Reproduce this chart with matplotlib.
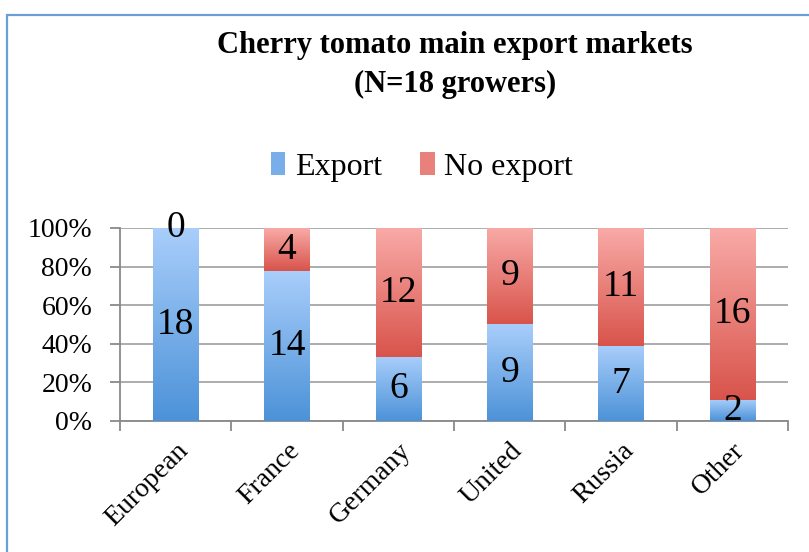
import matplotlib
matplotlib.use("Agg")
import matplotlib.pyplot as plt
import numpy as np
from matplotlib.colors import LinearSegmentedColormap
from matplotlib.patches import Rectangle, Patch
from matplotlib.ticker import FixedLocator, FuncFormatter

categories = ["European", "France", "Germany", "United", "Russia", "Other"]
export = [18, 14, 6, 9, 7, 2]
no_export = [0, 4, 12, 9, 11, 16]
series_names = ["Export", "No export"]
title = "Cherry tomato main export markets\n(N=18 growers)"

blue_top, blue_bot = "#A9CEFB", "#4C92D8"
red_top, red_bot = "#F9AAA7", "#D8544B"

plt.rcParams['font.family'] = ['Liberation Serif', 'DejaVu Serif']

W, H = 809, 552
fig = plt.figure(figsize=(W / 100, H / 100), dpi=100)
ax = fig.add_axes([120 / W, 1 - 421 / H, (788 - 120) / W, (421 - 228) / H])

x = np.arange(len(categories))
tot = np.array(export) + np.array(no_export)
exp_p = np.array(export) / tot * 100
no_p = np.array(no_export) / tot * 100
width = 0.41

grad = np.linspace(1, 0, 256).reshape(-1, 1)
cmap_b = LinearSegmentedColormap.from_list("b", [blue_bot, blue_top])
cmap_r = LinearSegmentedColormap.from_list("r", [red_bot, red_top])

bars_e = ax.bar(x, exp_p, width, color="none", zorder=3)
bars_n = ax.bar(x, no_p, width, bottom=exp_p, color="none", zorder=3)

for bars, cm in ((bars_e, cmap_b), (bars_n, cmap_r)):
    for b in bars:
        x0, y0 = b.get_x(), b.get_y()
        w, h = b.get_width(), b.get_height()
        if h <= 0:
            continue
        ax.imshow(grad, cmap=cm, aspect="auto", extent=[x0, x0 + w, y0, y0 + h],
                  zorder=3, interpolation="bicubic")

for i in range(len(categories)):
    ax.text(x[i], exp_p[i] / 2, str(export[i]), ha="center", va="center",
            fontsize=27, zorder=5)
    ax.text(x[i], exp_p[i] + no_p[i] / 2, str(no_export[i]), ha="center", va="center",
            fontsize=27, zorder=5)

ax.set_xlim(-0.5, len(categories) - 0.5)
ax.set_ylim(0, 100)
ax.set_yticks(np.arange(0, 101, 20))
ax.yaxis.set_major_formatter(FuncFormatter(lambda v, p: f"{int(v)}%"))
ax.yaxis.grid(True, color="#A6A6A6", linewidth=1.3, zorder=0)
ax.set_axisbelow(True)

ax.set_xticks(x)
ax.set_xticklabels(categories, rotation=45, ha="right", rotation_mode="anchor", fontsize=20)
ax.tick_params(axis="x", which="major", length=0, pad=12)
ax.xaxis.set_minor_locator(FixedLocator(np.arange(-0.5, len(categories), 1)))
ax.tick_params(axis="x", which="minor", length=7, color="#898989", width=1.3)
ax.tick_params(axis="y", length=7, color="#898989", width=1.3, labelsize=20, pad=13)

for s in ["top", "right"]:
    ax.spines[s].set_visible(False)
for s in ["left", "bottom"]:
    ax.spines[s].set_color("#898989")
    ax.spines[s].set_linewidth(1.3)

fig.text(455 / W, 1 - 65 / H, title, ha="center", va="center", fontsize=22,
         fontweight="bold", linespacing=1.45)

handles = [Patch(facecolor="#7AAEE9", edgecolor="none"),
           Patch(facecolor="#E8807B", edgecolor="none")]
fig.legend(handles, series_names, loc="center", bbox_to_anchor=(422 / W, 1 - 167 / H),
           ncol=2, frameon=False, fontsize=23, handlelength=0.45, handleheight=0.7,
           handletextpad=0.3, columnspacing=1.2)

border = Rectangle((7 / W, -0.1), 1.2, 1 - 15 / H + 0.1, transform=fig.transFigure,
                   fill=False, edgecolor="#6A9FD8", linewidth=1.6)
fig.patches.append(border)

fig.savefig("out.png", dpi=100)
